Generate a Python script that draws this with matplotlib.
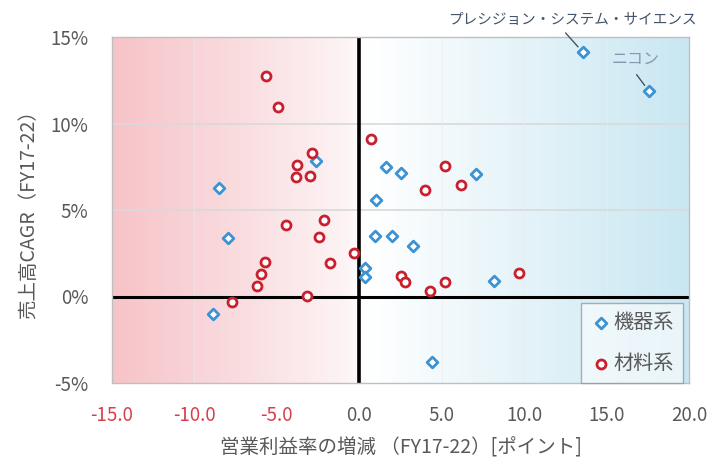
import numpy as np
import matplotlib
matplotlib.use("Agg")
import matplotlib.pyplot as plt
from matplotlib.colors import LinearSegmentedColormap

plt.rcParams['font.family'] = ['Noto Sans CJK JP', 'DejaVu Sans']

# 機器系 (equipment) - x: change in operating margin [pt], y: sales CAGR [%]
kiki_x = [13.55, 17.56, -8.5, -7.95, -8.86, -2.61, 1.65, 2.56, 7.05, 1.04,
          0.95, 2.0, 3.23, 0.37, 0.37, 8.15, 4.44]
kiki_y = [14.13, 11.88, 6.27, 3.38, -1.01, 7.83, 7.49, 7.14, 7.08, 5.58,
          3.5, 3.5, 2.92, 1.65, 1.13, 0.9, -3.79]

# 材料系 (materials)
zairyo_x = [-5.64, -4.91, -2.85, -3.76, -3.82, -2.97, -4.43, -2.12, -2.42, -5.7,
            -5.95, -6.19, -7.7, -1.76, -0.3, -3.15, 0.73, 5.17, 3.96, 6.2,
            2.5, 2.8, 5.17, 4.26, 9.67]
zairyo_y = [12.75, 10.95, 8.29, 7.6, 6.9, 6.96, 4.13, 4.42, 3.44, 1.99,
            1.3, 0.6, -0.32, 1.94, 2.51, 0.03, 9.1, 7.54, 6.16, 6.45,
            1.18, 0.84, 0.84, 0.32, 1.36]

x_ticks = [-15, -10, -5, 0, 5, 10, 15, 20]
x_ticklabels = ['-15.0', '-10.0', '-5.0', '0.0', '5.0', '10.0', '15.0', '20.0']
y_ticks = [-5, 0, 5, 10, 15]
y_ticklabels = ['-5%', '0%', '5%', '10%', '15%']

labels = [('プレシジョン・システム・サイエンス', 0), ('ニコン', 1)]

fig = plt.figure(figsize=(7.10, 4.63), dpi=100)
ax = fig.add_axes([112/710, 1-383/463, (689-112)/710, (383-37)/463])
ax.set_xlim(-15, 20)
ax.set_ylim(-5, 15)

# background gradient
cmap = LinearSegmentedColormap.from_list(
    'bg', [(0.0, '#f6c3c8'), (0.2, '#f9dadd'), (14/35, '#fdf3f4'),
           (15.5/35, '#ffffff'), (0.7, '#e6f4f9'), (1.0, '#c9e7f2')])
grad = np.linspace(0, 1, 400).reshape(1, -1)
ax.imshow(grad, extent=[-15, 20, -5, 15], aspect='auto', cmap=cmap,
          zorder=0, interpolation='bicubic')

for yv in [5, 10]:
    ax.axhline(yv, color='#d9d9d9', lw=1.2, zorder=1)
for xv in [-10, -5, 5, 10, 15]:
    ax.axvline(xv, color='#ececec', lw=0.8, zorder=1, alpha=0.6)

ax.axhline(0, color='black', lw=2.2, zorder=2)
ax.axvline(0, color='black', lw=2.6, zorder=2)

ax.scatter(kiki_x, kiki_y, marker='D', s=30, facecolors='white',
           edgecolors='#3d92d4', linewidths=2.0, zorder=4, label='機器系')
ax.scatter(zairyo_x, zairyo_y, marker='o', s=42, facecolors='white',
           edgecolors='#c9202f', linewidths=2.0, zorder=4, label='材料系')

# annotations
ax.annotate(labels[0][0], xy=(kiki_x[labels[0][1]], kiki_y[labels[0][1]]),
            xytext=(12.95, 15.98), textcoords='data', ha='center', va='center',
            fontsize=10.5, color='#44546a', annotation_clip=False,
            arrowprops=dict(arrowstyle='-', color='#44546a', lw=1.0,
                            relpos=(0.45, 0.0), shrinkA=3, shrinkB=5))
ax.annotate(labels[1][0], xy=(kiki_x[labels[1][1]], kiki_y[labels[1][1]]),
            xytext=(16.75, 13.67), textcoords='data', ha='center', va='center',
            fontsize=11.5, color='#8497b0', annotation_clip=False,
            arrowprops=dict(arrowstyle='-', color='#44546a', lw=1.0,
                            relpos=(0.43, 0.0), shrinkA=3, shrinkB=5))

ax.set_xticks(x_ticks)
ax.set_xticklabels(x_ticklabels)
ax.set_yticks(y_ticks)
ax.set_yticklabels(y_ticklabels)
ax.tick_params(axis='both', length=0, labelsize=13.5, colors='#595959')
ax.tick_params(axis='x', pad=16)
ax.tick_params(axis='y', pad=17)
for t, v in zip(ax.get_xticklabels(), x_ticks):
    t.set_color('#d6404e' if v < 0 else '#595959')

for s in ax.spines.values():
    s.set_color('#bfbfbf')
    s.set_linewidth(1.0)

ax.set_xlabel('営業利益率の増減 （FY17-22）[ポイント]', fontsize=14,
              color='#595959', labelpad=8)
ax.set_ylabel('売上高CAGR（FY17-22）', fontsize=14, color='#595959', labelpad=8)

leg = ax.legend(loc='lower right', fontsize=14.5, frameon=True, fancybox=False,
                edgecolor='#7f7f7f', facecolor='white', framealpha=0.6,
                borderaxespad=0.0, handletextpad=0.1, handlelength=1.1,
                borderpad=0.45, labelspacing=1.0, bbox_to_anchor=(0.99, 0.0))
for t in leg.get_texts():
    t.set_color('#595959')
leg.get_frame().set_linewidth(1.0)

fig.savefig('out.png', dpi=100)
